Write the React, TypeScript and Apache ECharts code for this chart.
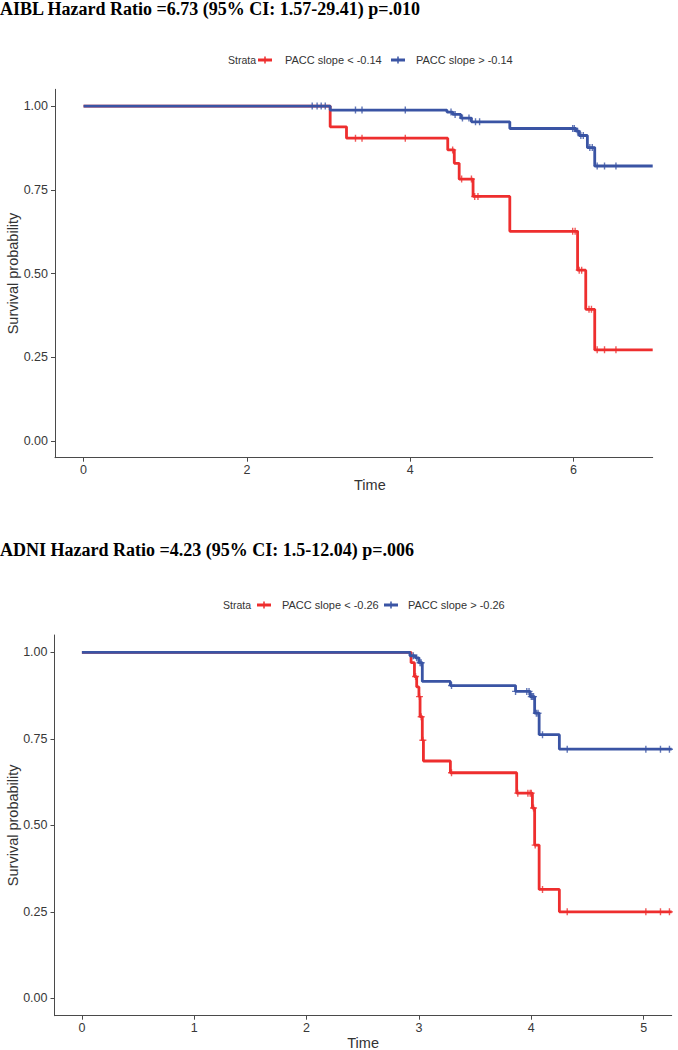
import React, { useEffect, useRef } from "react";
import * as echarts from "echarts";

// ---- AIBL (top panel) ----
const aiblTitle = "AIBL Hazard Ratio =6.73 (95% CI: 1.57-29.41) p=.010";
const aiblLowName = "PACC slope < -0.14";
const aiblHighName = "PACC slope > -0.14";
const aiblLowTime = [0, 3.02, 3.22, 4.46, 4.54, 4.6, 4.77, 5.22, 6.05, 6.15, 6.26, 6.97];
const aiblLowSurv = [1, 0.938, 0.904, 0.869, 0.829, 0.782, 0.73, 0.626, 0.51, 0.393, 0.272, 0.272];
const aiblLowCensor = [3.33, 3.41, 3.94, 4.52, 4.63, 4.75, 4.79, 4.83, 5.99, 6.02, 6.07, 6.1, 6.19, 6.22, 6.29, 6.38, 6.52];
const aiblHighTime = [0, 3.02, 4.45, 4.52, 4.62, 4.75, 5.22, 6.03, 6.07, 6.17, 6.26, 6.97];
const aiblHighSurv = [1, 0.988, 0.982, 0.975, 0.964, 0.953, 0.933, 0.925, 0.912, 0.876, 0.821, 0.821];
const aiblHighCensor = [2.8, 2.86, 2.91, 2.96, 3.33, 3.41, 3.94, 4.5, 4.55, 4.64, 4.72, 4.8, 4.85, 5.99, 6.01, 6.05, 6.09, 6.12, 6.2, 6.23, 6.29, 6.38, 6.52];
const aiblXTicks = [0, 2, 4, 6];

// ---- ADNI (bottom panel) ----
const adniTitle = "ADNI Hazard Ratio =4.23 (95% CI: 1.5-12.04) p=.006";
const adniLowName = "PACC slope < -0.26";
const adniHighName = "PACC slope > -0.26";
const adniLowTime = [0, 2.93, 2.96, 2.98, 3.0, 3.01, 3.03, 3.04, 3.28, 3.87, 4.01, 4.03, 4.07, 4.25, 5.25];
const adniLowSurv = [1, 0.97, 0.93, 0.9, 0.872, 0.814, 0.746, 0.686, 0.652, 0.593, 0.55, 0.443, 0.315, 0.25, 0.25];
const adniLowCensor = [2.97, 3.005, 3.02, 3.035, 3.29, 3.88, 3.97, 3.99, 4.0, 4.02, 4.035, 4.1, 4.32, 5.02, 5.15, 5.23];
const adniHighTime = [0, 2.92, 2.97, 3.0, 3.03, 3.28, 3.86, 3.99, 4.03, 4.07, 4.25, 5.25];
const adniHighSurv = [1, 0.99, 0.984, 0.97, 0.916, 0.904, 0.887, 0.872, 0.824, 0.762, 0.72, 0.72];
const adniHighCensor = [2.95, 2.98, 3.01, 3.02, 3.29, 3.86, 3.96, 3.98, 4.0, 4.01, 4.02, 4.045, 4.06, 4.1, 4.32, 5.02, 5.15, 5.23];
const adniXTicks = [0, 1, 2, 3, 4, 5];

const yTicks = [0, 0.25, 0.5, 0.75, 1];
const legendTitle = "Strata";
const xName = "Time";
const yName = "Survival probability";

const RED = "#ee2e2e";
const BLUE = "#3a54a4";
const AXIS = "#4a4a4a";
const PLUS = "path://M-0.2,-1H0.2V-0.2H1V0.2H0.2V1H-0.2V0.2H-1V-0.2H-0.2Z";

function pairs(t: number[], s: number[]) {
  return t.map((v, i) => [v, s[i]]);
}
function survAt(t: number[], s: number[], x: number) {
  let v = s[0];
  for (let i = 0; i < t.length; i++) if (t[i] <= x) v = s[i];
  return v;
}
function censorPts(t: number[], s: number[], c: number[]) {
  return c.map((x) => [x, survAt(t, s, x)]);
}

function axisPair(idx: number, min: number, max: number, ticks: number[], nameGapX: number, nameExtra: any) {
  const line = { show: true, onZero: false, lineStyle: { color: AXIS, width: 1 } };
  const tick = { show: true, length: 4, lineStyle: { color: AXIS, width: 1 } };
  const label = { fontSize: 12.5, color: "#383838", fontFamily: "Liberation Sans" };
  return {
    x: {
      type: "value",
      gridIndex: idx,
      min,
      max,
      axisLine: line,
      splitLine: { show: false },
      axisTick: { ...tick, customValues: ticks },
      axisLabel: { ...label, customValues: ticks, margin: 6 },
      name: xName,
      nameLocation: "middle",
      nameGap: nameGapX,
      nameTextStyle: { fontSize: 14.5, color: "#333", fontFamily: "Liberation Sans", ...nameExtra },
    },
    y: {
      type: "value",
      gridIndex: idx,
      min: -0.05,
      max: 1.05,
      axisLine: line,
      splitLine: { show: false },
      axisTick: { ...tick, customValues: yTicks },
      axisLabel: {
        ...label,
        customValues: yTicks,
        margin: 7,
        formatter: (v: number) => v.toFixed(2),
      },
    },
  };
}

function yNameGraphic(cy: number) {
  return {
    type: "text",
    x: 13,
    y: cy,
    rotation: Math.PI / 2,
    style: {
      text: yName,
      fontSize: 14.5,
      fill: "#333",
      fontFamily: "Liberation Sans",
      align: "center",
      verticalAlign: "middle",
    },
  };
}

function legendGraphic(y: number, strataX: number, items: { name: string; color: string; keyX: number; textX: number }[]) {
  const els: any[] = [
    {
      type: "text",
      x: strataX,
      y,
      style: { text: legendTitle, fontSize: 10.5, fill: "#333", fontFamily: "Liberation Sans", verticalAlign: "middle" },
    },
  ];
  items.forEach((it) => {
    els.push({
      type: "line",
      shape: { x1: it.keyX, y1: y, x2: it.keyX + 14, y2: y },
      style: { stroke: it.color, lineWidth: 3 },
    });
    els.push({
      type: "line",
      shape: { x1: it.keyX + 7, y1: y - 3.5, x2: it.keyX + 7, y2: y + 3.5 },
      style: { stroke: it.color, lineWidth: 1.5 },
    });
    els.push({
      type: "text",
      x: it.textX,
      y,
      style: { text: it.name, fontSize: 11, fill: "#333", fontFamily: "Liberation Sans", verticalAlign: "middle" },
    });
  });
  return els;
}

function lineSeries(name: string, idx: number, t: number[], s: number[], color: string, z: number) {
  return {
    type: "line",
    name,
    xAxisIndex: idx,
    yAxisIndex: idx,
    step: "end",
    data: pairs(t, s),
    symbol: "none",
    lineStyle: { color, width: 2.8 },
    itemStyle: { color },
    z,
    silent: true,
  };
}
function censorSeries(name: string, idx: number, t: number[], s: number[], c: number[], color: string, z: number) {
  return {
    type: "scatter",
    name,
    xAxisIndex: idx,
    yAxisIndex: idx,
    data: censorPts(t, s, c),
    symbol: PLUS,
    symbolSize: 7,
    itemStyle: { color },
    z,
    silent: true,
  };
}

export default function App() {
  const ref = useRef<HTMLDivElement>(null);
  useEffect(() => {
    if (!ref.current) return;
    const chart = echarts.init(ref.current, undefined, { renderer: "svg" });
    const a = axisPair(0, -0.35, 6.97, aiblXTicks, 19, { padding: [0, 0, 0, 32] });
    const b = axisPair(1, -0.244, 5.25, adniXTicks, 16, {});
    chart.setOption({
      animation: false,
      backgroundColor: "#ffffff",
      grid: [
        { left: 55, top: 89.3, width: 597.7, height: 368.4, containLabel: false, outerBoundsMode: "none" },
        { left: 54.5, top: 635, width: 617.2, height: 380.7, containLabel: false, outerBoundsMode: "none" },
      ],
      xAxis: [a.x, b.x],
      yAxis: [a.y, b.y],
      series: [
        lineSeries(aiblLowName, 0, aiblLowTime, aiblLowSurv, RED, 2),
        censorSeries(aiblLowName + " censored", 0, aiblLowTime, aiblLowSurv, aiblLowCensor, RED, 3),
        lineSeries(aiblHighName, 0, aiblHighTime, aiblHighSurv, BLUE, 4),
        censorSeries(aiblHighName + " censored", 0, aiblHighTime, aiblHighSurv, aiblHighCensor, BLUE, 5),
        lineSeries(adniLowName, 1, adniLowTime, adniLowSurv, RED, 2),
        censorSeries(adniLowName + " censored", 1, adniLowTime, adniLowSurv, adniLowCensor, RED, 3),
        lineSeries(adniHighName, 1, adniHighTime, adniHighSurv, BLUE, 4),
        censorSeries(adniHighName + " censored", 1, adniHighTime, adniHighSurv, adniHighCensor, BLUE, 5),
      ],
      graphic: [
        {
          type: "text",
          x: 0,
          y: 9,
          style: { text: aiblTitle, fontSize: 18, fontWeight: "bold", fill: "#000", fontFamily: "Liberation Serif", verticalAlign: "middle" },
        },
        {
          type: "text",
          x: 0,
          y: 550,
          style: { text: adniTitle, fontSize: 18, fontWeight: "bold", fill: "#000", fontFamily: "Liberation Serif", verticalAlign: "middle" },
        },
        yNameGraphic(273.5),
        yNameGraphic(825.3),
        ...legendGraphic(60, 228, [
          { name: aiblLowName, color: RED, keyX: 258, textX: 285 },
          { name: aiblHighName, color: BLUE, keyX: 391, textX: 416 },
        ]),
        ...legendGraphic(605, 223, [
          { name: adniLowName, color: RED, keyX: 257, textX: 282 },
          { name: adniHighName, color: BLUE, keyX: 384, textX: 408 },
        ]),
      ],
    });
    return () => chart.dispose();
  }, []);
  return <div ref={ref} style={{ position: "absolute", left: 0, top: 0, width: 678, height: 1050 }} />;
}
